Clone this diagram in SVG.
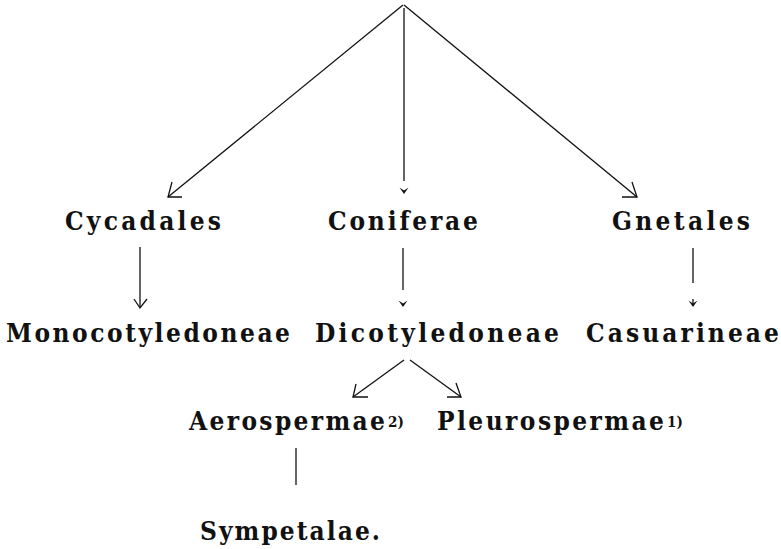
<svg xmlns="http://www.w3.org/2000/svg" width="781" height="549" viewBox="0 0 781 549">
<style>
text{font-family:"DejaVu Serif Condensed","Liberation Serif",serif;font-weight:bold;font-size:26px;fill:#111}
.sup{font-size:15px}
.ln{stroke:#111;stroke-width:1.3;fill:none}
.chev{fill:#111;stroke:none}
</style>
<defs>
<path id="chev" d="M-4.5,-3.5 L0,3 L4.5,-3.5 L0,-0.5 Z"/>
</defs>
<rect width="781" height="549" fill="#fff"/>
<g id="connectors">
<path class="ln" d="M403,5 L168,197"/>
<path class="ln" d="M172,182 L168,197 L182,197"/>
<path class="ln" d="M404,8 L404,181"/>
<use href="#chev" class="chev" x="404" y="191"/>
<path class="ln" d="M404,5 L637,197"/>
<path class="ln" d="M632,182 L637,197 L622,197"/>
<path class="ln" d="M140,247 L140,307"/>
<path class="ln" d="M134,299 L140,308 L147,299"/>
<path class="ln" d="M403,248 L403,290"/>
<use href="#chev" class="chev" x="403" y="304"/>
<path class="ln" d="M693,248 L693,283"/>
<path class="ln" d="M693,299 L693,305"/>
<use href="#chev" class="chev" x="693" y="304"/>
<path class="ln" d="M404,360 L353,397"/>
<path class="ln" d="M356,384 L353,397 L368,397"/>
<path class="ln" d="M410,360 L461,397"/>
<path class="ln" d="M456,383 L461,397 L447,397"/>
<path class="ln" d="M296,448 L296,485"/>
</g>
<g id="cycadales"><text x="65" y="230" textLength="156" lengthAdjust="spacing">Cycadales</text></g>
<g id="coniferae"><text x="328" y="230" textLength="150" lengthAdjust="spacing">Coniferae</text></g>
<g id="gnetales"><text x="612" y="230" textLength="138" lengthAdjust="spacing">Gnetales</text></g>
<g id="monocotyledoneae"><text x="6" y="342" textLength="284" lengthAdjust="spacing">Monocotyledoneae</text></g>
<g id="dicotyledoneae"><text x="315" y="342" textLength="244" lengthAdjust="spacing">Dicotyledoneae</text></g>
<g id="casuarineae"><text x="586" y="342" textLength="193" lengthAdjust="spacing">Casuarineae</text></g>
<g id="aerospermae"><text x="189" y="430"><tspan textLength="196" lengthAdjust="spacing">Aerospermae</tspan><tspan class="sup" x="388" y="427">2)</tspan></text></g>
<g id="pleurospermae"><text x="437" y="430"><tspan textLength="227" lengthAdjust="spacing">Pleurospermae</tspan><tspan class="sup" x="667" y="427">1)</tspan></text></g>
<g id="sympetalae"><text x="200" y="540" textLength="180" lengthAdjust="spacing">Sympetalae.</text></g>
</svg>
